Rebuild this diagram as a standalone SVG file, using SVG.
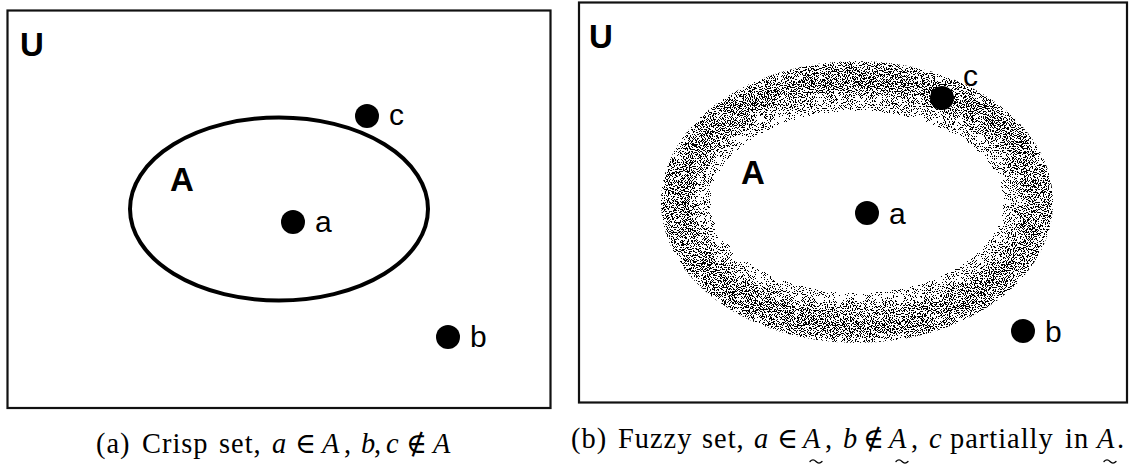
<svg xmlns="http://www.w3.org/2000/svg" width="1130" height="466" viewBox="0 0 1130 466">
<style>
.frame{fill:#fff;stroke:#111;stroke-width:2.2}
.dot{fill:#000}
.lbl{font-family:"Liberation Sans",Arial,sans-serif;font-size:30px;fill:#000}
.cap{font-family:"Liberation Sans",Arial,sans-serif;font-size:33px;font-weight:bold;fill:#000}
.capt{font-family:"Liberation Serif","DejaVu Serif",serif;font-size:28.4px;letter-spacing:1px;fill:#000}
.it{font-style:italic}
.tilde{fill:none;stroke:#000;stroke-width:1.3;stroke-linecap:round}
</style>
<defs>
<filter id="grain" filterUnits="userSpaceOnUse" x="640" y="40" width="440" height="330" color-interpolation-filters="sRGB">
<feGaussianBlur in="SourceGraphic" stdDeviation="10" result="soft"/>
<feTurbulence type="fractalNoise" baseFrequency="0.95" numOctaves="2" seed="7" result="noise"/>
<feColorMatrix in="noise" type="matrix" values="0 0 0 0 0  0 0 0 0 0  0 0 0 0 0  4 0 0 0 -1.5" result="n"/>
<feComposite in="soft" in2="n" operator="arithmetic" k1="0" k2="1" k3="-1" k4="0" result="d"/>
<feComponentTransfer in="d"><feFuncA type="discrete" tableValues="0 1 1 1 1 1 1 1 1 1 1 1 1 1 1 1 1 1 1 1"/></feComponentTransfer>
</filter>
<clipPath id="outer"><ellipse cx="857" cy="202" rx="196" ry="141"/></clipPath>
</defs>

<g id="panel-a">
<rect class="frame" x="7.5" y="10.5" width="543" height="397.5"/>
<text class="cap" x="20" y="56">U</text>
<g id="set-A-crisp">
<ellipse cx="279" cy="209" rx="149" ry="91.5" fill="none" stroke="#000" stroke-width="4"/>
<text class="cap" x="170" y="191">A</text>
</g>
<g id="a-left"><circle class="dot" cx="293" cy="222" r="12"/><text class="lbl" x="315" y="232">a</text></g>
<g id="c-left"><circle class="dot" cx="367" cy="116" r="12"/><text class="lbl" x="389" y="125">c</text></g>
<g id="b-left"><circle class="dot" cx="448" cy="337" r="12"/><text class="lbl" x="470" y="347">b</text></g>
</g>

<g id="panel-b">
<rect class="frame" x="579" y="2.5" width="548" height="400"/>
<text class="cap" x="589" y="48">U</text>
<g id="set-A-fuzzy">
<g clip-path="url(#outer)">
<ellipse cx="857" cy="202" rx="179" ry="123" fill="none" stroke="#000" stroke-opacity="0.5" stroke-width="38" filter="url(#grain)"/>
</g>
<text class="cap" x="741" y="184">A</text>
</g>
<g id="a-right"><circle class="dot" cx="867" cy="213" r="12"/><text class="lbl" x="889" y="224">a</text></g>
<g id="c-right"><circle class="dot" cx="942" cy="98" r="12"/><text class="lbl" x="963" y="86">c</text></g>
<g id="b-right"><circle class="dot" cx="1023" cy="331" r="12"/><text class="lbl" x="1045" y="342">b</text></g>
</g>

<g id="captions">
<text class="capt" y="453"><tspan x="96">(a)</tspan><tspan x="142">Crisp</tspan><tspan x="219">set,</tspan><tspan class="it" x="272">a</tspan><tspan x="295">∈</tspan><tspan class="it" x="322">A</tspan><tspan x="344">,</tspan><tspan class="it" x="361">b</tspan><tspan x="374">,</tspan><tspan class="it" x="386">c</tspan><tspan x="406">∉</tspan><tspan class="it" x="433">A</tspan></text>
<text class="capt" y="448"><tspan x="571">(b)</tspan><tspan x="618">Fuzzy</tspan><tspan x="702">set,</tspan><tspan class="it" x="754">a</tspan><tspan x="777">∈</tspan><tspan class="it" x="803">A</tspan><tspan x="825">,</tspan><tspan class="it" x="843">b</tspan><tspan x="863">∉</tspan><tspan class="it" x="889">A</tspan><tspan x="911">,</tspan><tspan class="it" x="929">c</tspan><tspan x="950">partially</tspan><tspan x="1065">in</tspan><tspan class="it" x="1097">A</tspan><tspan x="1117">.</tspan></text>
<path class="tilde" d="M810,461.5 q3,-3.2 6,0 t6,0"/>
<path class="tilde" d="M896,461.5 q3,-3.2 6,0 t6,0"/>
<path class="tilde" d="M1104,461.5 q3,-3.2 6,0 t6,0"/>
</g>
</svg>
